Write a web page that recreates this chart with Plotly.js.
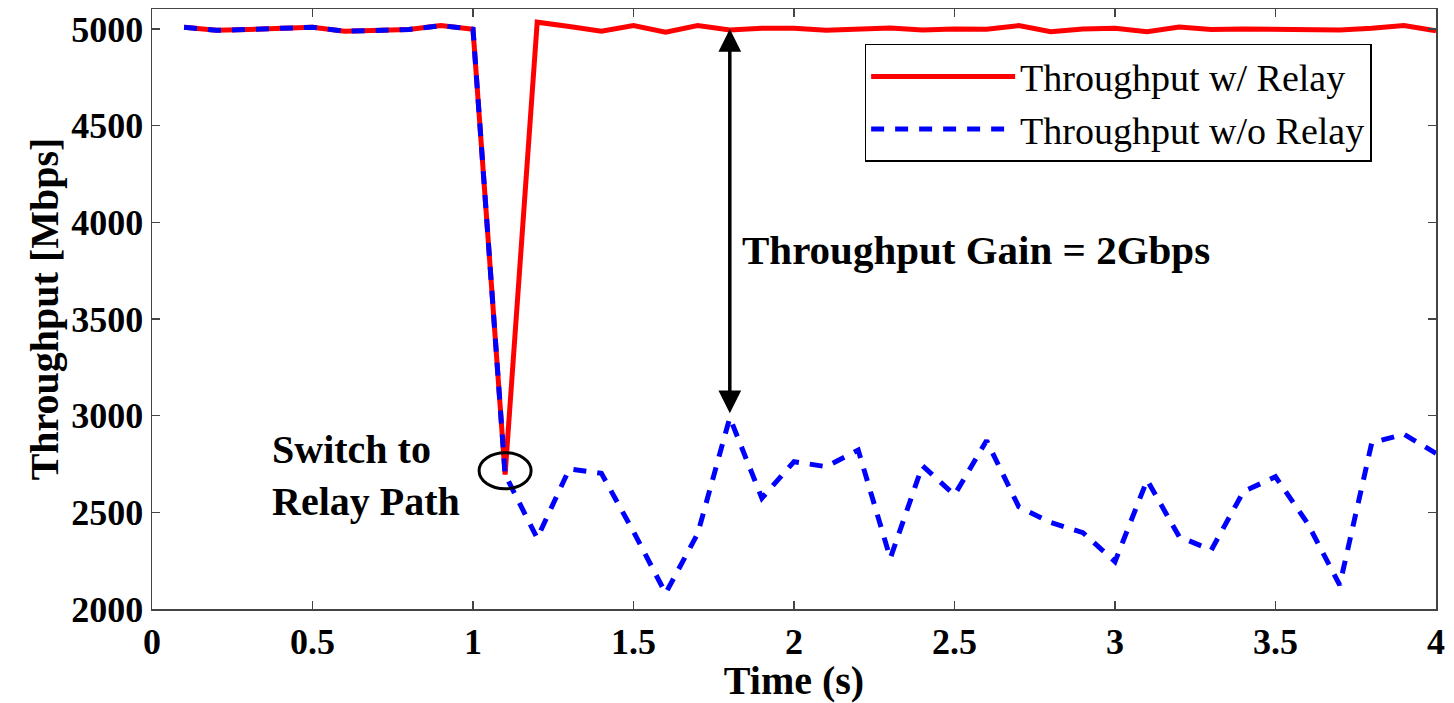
<!DOCTYPE html>
<html>
<head>
<meta charset="utf-8">
<script src="https://cdn.plot.ly/plotly-3.0.1.min.js"></script>
<style>
html,body{margin:0;padding:0;background:#fff;}
#chart{width:1454px;height:703px;}
#chart svg text{font-family:"Liberation Serif","Times New Roman",serif !important;}
</style>
</head>
<body>
<div id="chart"></div>
<script>
const timeS = [0.1,0.2,0.3,0.4,0.5,0.6,0.7,0.8,0.9,1.0,1.1,1.2,1.3,1.4,1.5,1.6,1.7,1.8,1.9,2.0,2.1,2.2,2.3,2.4,2.5,2.6,2.7,2.8,2.9,3.0,3.1,3.2,3.3,3.4,3.5,3.6,3.7,3.8,3.9,4.0];
const withRelay = [5009,4993,4997,5000,5009,4988,4993,4997,5017,4998,2695,5035,5012,4988,5017,4983,5017,4995,5003,5003,4993,5000,5005,4995,5000,4998,5017,4986,5000,5003,4986,5010,4997,5000,5000,5000,4995,5003,5018,4990];
const withoutRelay = [5009,4993,4997,5000,5009,4988,4993,4997,5017,4998,2695,2366,2724,2702,2400,2081,2390,2990,2573,2762,2736,2822,2262,2741,2590,2871,2529,2447,2395,2245,2667,2374,2305,2607,2684,2443,2124,2860,2904,2805];
const seriesNames = ["Throughput w/ Relay", "Throughput w/o Relay"];
const xTicks = [0,0.5,1,1.5,2,2.5,3,3.5,4];
const xTickText = ["0","0.5","1","1.5","2","2.5","3","3.5","4"];
const yTicks = [2000,2500,3000,3500,4000,4500,5000];
const gainText = "Throughput Gain = 2Gbps";
const switchText = "Switch to<br>Relay Path";

const serif = "Liberation Serif";
const traces = [
  {x: timeS, y: withRelay, name: seriesNames[0], mode: "lines",
   line: {color: "#ff0000", width: 5}},
  {x: timeS, y: withoutRelay, name: seriesNames[1], mode: "lines",
   line: {color: "#0000ff", width: 5, dash: "13px,11px"}}
];
const axisCommon = {
  showgrid: false, zeroline: false, showline: true, linecolor: "#444", linewidth: 1.5,
  mirror: "ticks", ticks: "inside", ticklen: 8, tickcolor: "#444", tickwidth: 1.2,
  tickfont: {family: serif, size: 36, color: "#000", weight: "bold"}
};
const layout = {
  width: 1454, height: 703,
  margin: {l: 152, r: 18, t: 9, b: 94},
  paper_bgcolor: "#fff", plot_bgcolor: "#fff",
  font: {family: serif},
  showlegend: true,
  xaxis: Object.assign({}, axisCommon, {
    range: [0, 4], tickvals: xTicks, ticktext: xTickText,
    title: {text: "Time (s)", font: {family: serif, size: 40, color: "#000", weight: "bold"}, standoff: 0}
  }),
  yaxis: Object.assign({}, axisCommon, {
    range: [2000, 5103], tickvals: yTicks,
    title: {text: "Throughput [Mbps]", font: {family: serif, size: 40, color: "#000", weight: "bold"}, standoff: 0}
  }),
  legend: {
    x: 0.555, y: 0.942, xanchor: "left", yanchor: "top",
    bgcolor: "#fff", bordercolor: "#000", borderwidth: 1.5,
    font: {family: serif, size: 38, color: "#000"},
    itemwidth: 144, tracegroupgap: 0
  },
  shapes: [
    {type: "circle", xref: "x", yref: "y", x0: 1.019, x1: 1.181, y0: 2622, y1: 2808,
     line: {color: "#000", width: 3}}
  ],
  annotations: [
    {x: 1.8, y: 5000, ax: 1.8, ay: 3005, xref: "x", yref: "y", axref: "x", ayref: "y",
     text: "", showarrow: true, arrowhead: 2, startarrowhead: 2, arrowside: "end+start",
     arrowsize: 1.3, startarrowsize: 1.3, arrowwidth: 3.5, arrowcolor: "#000"},
    {x: 1.832, y: 3857, xref: "x", yref: "y", xanchor: "left", yanchor: "middle",
     text: gainText, showarrow: false,
     font: {family: serif, size: 41, color: "#000", weight: "bold"}},
    {x: 0.368, y: 2690, xref: "x", yref: "y", xanchor: "left", yanchor: "middle",
     text: switchText, showarrow: false, align: "left",
     font: {family: serif, size: 40, color: "#000", weight: "bold"}}
  ]
};
Plotly.newPlot("chart", traces, layout, {displayModeBar: false, staticPlot: true});
</script>
</body>
</html>
